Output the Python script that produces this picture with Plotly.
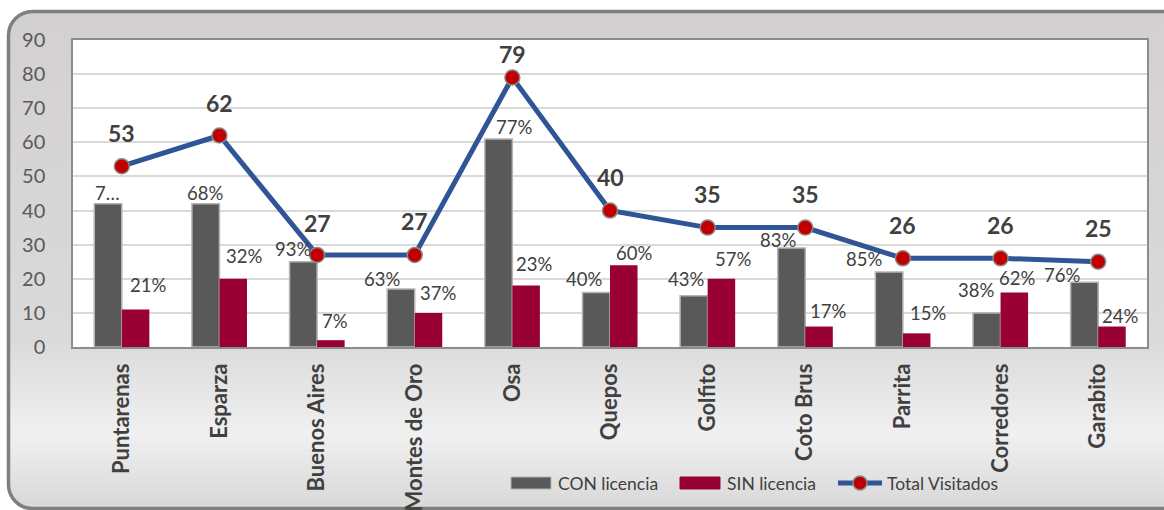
import base64
import plotly.graph_objects as go

# Cantones visitados y resultados de la inspección
cantones = ["Puntarenas", "Esparza", "Buenos Aires", "Montes de Oro", "Osa", "Quepos",
            "Golfito", "Coto Brus", "Parrita", "Corredores", "Garabito"]
con_licencia = [42, 42, 25, 17, 61, 16, 15, 29, 22, 10, 19]
sin_licencia = [11, 20, 2, 10, 18, 24, 20, 6, 4, 16, 6]
total_visitados = [53, 62, 27, 27, 79, 40, 35, 35, 26, 26, 25]

# Etiquetas de porcentaje de cada serie
pct_con = ["7…", "68%", "93%", "63%", "77%", "40%", "43%", "83%", "85%", "38%", "76%"]
pct_sin = ["21%", "32%", "7%", "37%", "23%", "60%", "57%", "17%", "15%", "62%", "24%"]

y_ticks = [0, 10, 20, 30, 40, 50, 60, 70, 80, 90]
series_names = ["CON licencia", "SIN licencia", "Total Visitados"]

# Desplazamientos (px) de las etiquetas respecto a cada barra / punto
con_dx = [0, 0, -10, -19, 16, -12, -8, -13, -25, -11, -22]
con_dy = [11, 11, 13, 10, 12, 13, 17, 8, 13, 23, 7]
sin_dx = [12, 11, 4, 9, 8, 10, 11, 9, 11, 2, 8]
sin_dy = [24, 23, 19, 20, 22, 12, 20, 16, 20, 14, 11]
tot_dy = [33, 33, 32, 34, 24, 34, 34, 34, 33, 33, 34]

W, H = 1164, 510
ML, MR, MT, MB = 73, 17, 40, 163
PW, PH = W - ML - MR, H - MT - MB

CON_COLOR = "#595959"
SIN_COLOR = "#990033"
LINE_COLOR = "#2f5597"
DOT_COLOR = "#c00000"
FONT = "Lato"
TEXT_COLOR = "#404040"


def px_x(px):
    """Coordenada horizontal de la página (px) a fracción del área de trazado."""
    return (px - ML) / PW


def px_y(py):
    """Coordenada vertical de la página (px, desde arriba) a fracción del área."""
    return (H - MB - py) / PH


# Fondo: marco redondeado con degradado vertical
bg_svg = f"""<svg xmlns='http://www.w3.org/2000/svg' width='{W}' height='{H}' viewBox='0 0 {W} {H}'>
<defs><linearGradient id='g' x1='0' y1='0' x2='0' y2='1'>
<stop offset='0' stop-color='#d3d0d1'/>
<stop offset='0.66' stop-color='#dadada'/>
<stop offset='0.85' stop-color='#f0f0f0'/>
<stop offset='1' stop-color='#d8d8d8'/>
</linearGradient></defs>
<rect x='8.5' y='11.5' width='1180' height='497' rx='24' ry='24' fill='url(#g)' stroke='#7f7f7f' stroke-width='3.5'/>
</svg>"""
bg_uri = "data:image/svg+xml;base64," + base64.b64encode(bg_svg.encode()).decode()

fig = go.Figure()
fig.add_trace(go.Bar(
    x=cantones, y=con_licencia, name=series_names[0], showlegend=False,
    marker=dict(color=CON_COLOR, line=dict(color="#b4b4b4", width=1.5)),
))
fig.add_trace(go.Bar(
    x=cantones, y=sin_licencia, name=series_names[1], showlegend=False,
    marker=dict(color=SIN_COLOR, line=dict(width=0)),
))
fig.add_trace(go.Scatter(
    x=cantones, y=total_visitados, name=series_names[2], mode="lines+markers",
    showlegend=False,
    line=dict(color=LINE_COLOR, width=5),
    marker=dict(color=DOT_COLOR, size=15, line=dict(color="#8a8a8a", width=1.5)),
))

annotations = []
bar_off = 14  # media anchura de barra en px
for i, c in enumerate(cantones):
    annotations.append(dict(
        x=c, y=con_licencia[i], xref="x", yref="y", text=pct_con[i], showarrow=False,
        xshift=-bar_off + con_dx[i], yshift=con_dy[i], yanchor="middle",
        font=dict(family=FONT, size=18.5, color=TEXT_COLOR),
    ))
    annotations.append(dict(
        x=c, y=sin_licencia[i], xref="x", yref="y", text=pct_sin[i], showarrow=False,
        xshift=bar_off + sin_dx[i], yshift=sin_dy[i], yanchor="middle",
        font=dict(family=FONT, size=18.5, color=TEXT_COLOR),
    ))
    annotations.append(dict(
        x=c, y=total_visitados[i], xref="x", yref="y", text=f"<b>{total_visitados[i]}</b>",
        showarrow=False, yshift=tot_dy[i], yanchor="middle",
        font=dict(family=FONT, size=23, color=TEXT_COLOR),
    ))

# Leyenda dibujada a mano (muestras anchas como en Excel)
shapes = [dict(
    type="rect", xref="paper", yref="paper", x0=0, x1=1, y0=0, y1=1,
    fillcolor="white", line=dict(width=0), layer="below",
)]
leg_y = 483
legend_items = [
    (511, 556, CON_COLOR, "bar"),
    (680, 725, SIN_COLOR, "bar"),
    (838, 885, LINE_COLOR, "line"),
]
for (x0, tx, color, kind), name in zip(legend_items, series_names):
    if kind == "bar":
        shapes.append(dict(
            type="rect", xref="paper", yref="paper",
            x0=px_x(x0), x1=px_x(x0 + 40), y0=px_y(leg_y + 6), y1=px_y(leg_y - 6),
            fillcolor=color,
            line=dict(color="#b4b4b4" if color == CON_COLOR else color, width=1),
        ))
    else:
        shapes.append(dict(
            type="line", xref="paper", yref="paper",
            x0=px_x(x0), x1=px_x(x0 + 44), y0=px_y(leg_y), y1=px_y(leg_y),
            line=dict(color=color, width=5),
        ))
        shapes.append(dict(
            type="circle", xref="paper", yref="paper",
            x0=px_x(x0 + 22 - 7), x1=px_x(x0 + 22 + 7),
            y0=px_y(leg_y + 7), y1=px_y(leg_y - 7),
            fillcolor=DOT_COLOR, line=dict(color="#8a8a8a", width=1.5),
        ))
    annotations.append(dict(
        x=px_x(tx), y=px_y(leg_y), xref="paper", yref="paper", text=name,
        showarrow=False, xanchor="left", yanchor="middle",
        font=dict(family=FONT, size=17.5, color=TEXT_COLOR),
    ))

fig.update_layout(
    width=W, height=H,
    margin=dict(l=ML, r=MR, t=MT, b=MB, pad=0, autoexpand=False),
    paper_bgcolor="white",
    plot_bgcolor="rgba(0,0,0,0)",
    barmode="group",
    bargap=0.436,
    bargroupgap=0,
    showlegend=False,
    images=[dict(
        source=bg_uri, xref="paper", yref="paper",
        x=-ML / PW, y=1 + MT / PH, sizex=W / PW, sizey=H / PH,
        xanchor="left", yanchor="top", sizing="stretch", layer="below",
    )],
    shapes=shapes,
    annotations=annotations,
    font=dict(family=FONT),
)

fig.update_xaxes(
    range=[-0.5, len(cantones) - 0.5],
    automargin=False,
    tickangle=-90,
    tickfont=dict(family=FONT, size=22, color=TEXT_COLOR, weight="bold"),
    showline=True, linecolor="#8c8c8c", linewidth=1.5, mirror=True,
    showgrid=False, ticks="", ticklabelstandoff=6,
)
fig.update_yaxes(
    range=[0, 90], tickvals=y_ticks,
    automargin=False,
    tickfont=dict(family=FONT, size=20, color="#595959"),
    showline=True, linecolor="#8c8c8c", linewidth=1.5, mirror=True,
    showgrid=True, gridcolor="#d9d9d9", gridwidth=1.5, zeroline=False,
    ticks="", ticklabelstandoff=22,
)

fig.write_html("out.html")
